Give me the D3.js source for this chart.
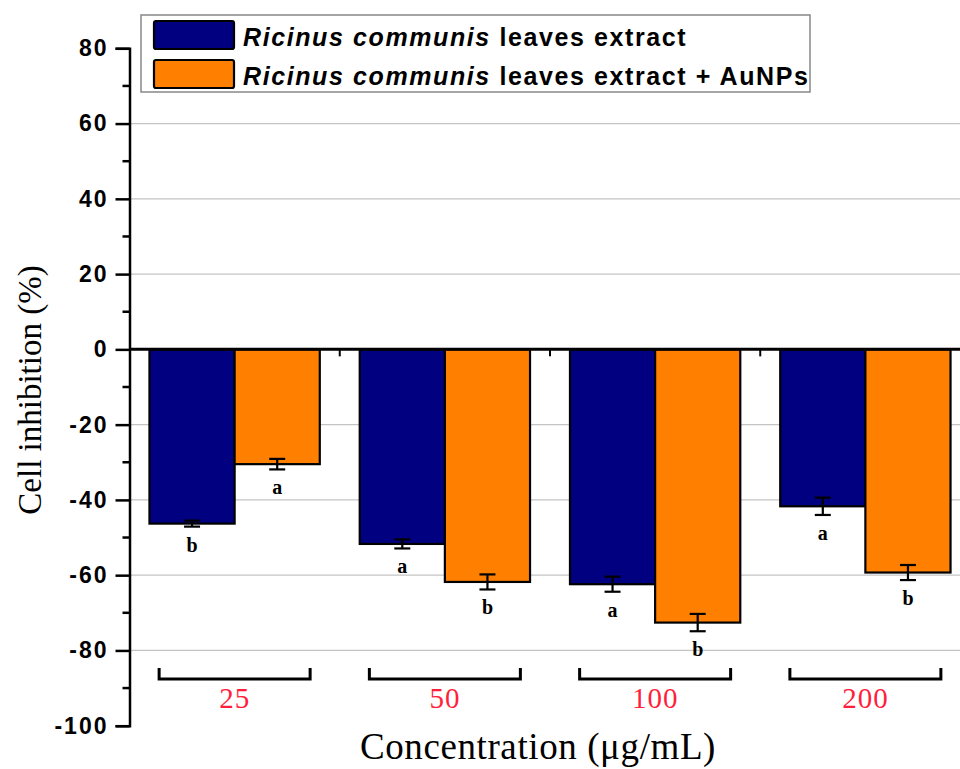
<!DOCTYPE html>
<html>
<head>
<meta charset="utf-8">
<script src="https://cdn.jsdelivr.net/npm/d3@7"></script>
<style>
  body { margin: 0; background: #fff; }
  svg { display: block; }
</style>
</head>
<body>
<div id="container"></div>
<script>
// values
const concentrations = ["25", "50", "100", "200"];
const extractMean = [-46.3, -51.7, -62.4, -41.7];
const extractErr = [0.8, 1.2, 2.0, 2.3];
const extractLetter = ["b", "a", "a", "a"];
const aunpMean = [-30.5, -61.8, -72.6, -59.3];
const aunpErr = [1.4, 2.0, 2.3, 2.0];
const aunpLetter = ["a", "b", "b", "b"];
const yTicks = [-100, -80, -60, -40, -20, 0, 20, 40, 60, 80];
const seriesNames = ["extract", "aunp"];
const seriesColors = ["#000080", "#ff8000"];

const width = 960, height = 769;

const rows = [];
concentrations.forEach((c, i) => {
    rows.push({ conc: c, s: 0, v: extractMean[i], e: extractErr[i], letter: extractLetter[i] });
    rows.push({ conc: c, s: 1, v: aunpMean[i], e: aunpErr[i], letter: aunpLetter[i] });
});

const y = d3.scaleLinear().domain([-100, 80]).range([725.7, 48.3]);
const x = d3.scaleBand().domain(concentrations).range([129.5, 970.5])
    .paddingInner(0.19).paddingOuter(0.095);
const x1 = d3.scaleBand().domain([0, 1]).range([0, x.bandwidth()]);

const svg = d3.create("svg")
    .attr("width", width)
    .attr("height", height);

const axisX = x.range()[0];

// grid
svg.append("g")
    .selectAll("line")
    .data(yTicks.filter(t => t !== 0 && t !== 80 && t !== -100))
    .join("line")
    .attr("x1", axisX).attr("x2", width + 10)
    .attr("y1", d => y(d)).attr("y2", d => y(d))
    .attr("stroke", "#c4c4c4")
    .attr("stroke-width", 1.2);

// bars
svg.append("g")
    .selectAll("rect")
    .data(rows)
    .join("rect")
    .attr("x", d => x(d.conc) + x1(d.s))
    .attr("width", x1.bandwidth())
    .attr("y", y(0))
    .attr("height", d => y(d.v) - y(0))
    .attr("fill", d => seriesColors[d.s])
    .attr("stroke", "#000")
    .attr("stroke-width", 2.2);

// error bars
const eb = svg.append("g").attr("stroke", "#000").attr("stroke-width", 2.2);
rows.forEach(d => {
    const cx = x(d.conc) + x1(d.s) + x1.bandwidth() / 2;
    eb.append("line").attr("x1", cx).attr("x2", cx).attr("y1", y(d.v + d.e)).attr("y2", y(d.v - d.e));
    eb.append("line").attr("x1", cx - 8).attr("x2", cx + 8).attr("y1", y(d.v + d.e)).attr("y2", y(d.v + d.e));
    eb.append("line").attr("x1", cx - 8).attr("x2", cx + 8).attr("y1", y(d.v - d.e)).attr("y2", y(d.v - d.e));
});

// significance letters
svg.append("g")
    .selectAll("text")
    .data(rows)
    .join("text")
    .attr("x", d => x(d.conc) + x1(d.s) + x1.bandwidth() / 2)
    .attr("y", d => y(d.v - d.e) + 25)
    .attr("text-anchor", "middle")
    .style("font", "bold 20px 'Liberation Serif', 'Times New Roman', serif")
    .text(d => d.letter);

// zero line with group ticks
svg.append("line")
    .attr("x1", axisX).attr("x2", width + 10)
    .attr("y1", y(0)).attr("y2", y(0))
    .attr("stroke", "#000").attr("stroke-width", 3);
svg.append("g")
    .selectAll("line")
    .data(concentrations.slice(1))
    .join("line")
    .attr("x1", d => x(d) - x.step() * x.paddingInner() / 2)
    .attr("x2", d => x(d) - x.step() * x.paddingInner() / 2)
    .attr("y1", y(0)).attr("y2", y(0) + 7)
    .attr("stroke", "#000").attr("stroke-width", 2);

// y axis
const yAxis = svg.append("g")
    .attr("transform", `translate(${axisX},0)`)
    .call(d3.axisLeft(y).tickValues(yTicks).tickSize(14).tickPadding(7).tickFormat(d => String(d)));
yAxis.select(".domain").attr("stroke-width", 2.5);
yAxis.selectAll(".tick line").attr("stroke-width", 2.5);
yAxis.selectAll("text")
    .style("font", "bold 23px 'Liberation Sans', Arial, sans-serif")
    .style("letter-spacing", "2px")
    .attr("fill", "#000");
const minor = d3.range(-90, 80, 20);
yAxis.append("g")
    .selectAll("line")
    .data(minor)
    .join("line")
    .attr("x1", -7).attr("x2", 0)
    .attr("y1", d => y(d)).attr("y2", d => y(d))
    .attr("stroke", "#000").attr("stroke-width", 2.5);

// concentration brackets
const brW = 151, brY = y(-87.6);
const br = svg.append("g");
concentrations.forEach(c => {
    const cx = x(c) + x.bandwidth() / 2;
    br.append("path")
        .attr("d", `M${cx - brW / 2},${brY - 11}V${brY}H${cx + brW / 2}V${brY - 11}`)
        .attr("fill", "none").attr("stroke", "#000").attr("stroke-width", 3);
    br.append("text")
        .attr("x", cx).attr("y", brY + 29)
        .attr("text-anchor", "middle")
        .attr("fill", "#ff1f3d")
        .style("font", "29px 'Liberation Serif', 'Times New Roman', serif")
        .style("letter-spacing", "1px")
        .text(c);
});

// axis titles
svg.append("text")
    .attr("x", 538).attr("y", 759)
    .attr("text-anchor", "middle")
    .style("font", "37px 'Liberation Serif', 'Times New Roman', serif")
    .style("letter-spacing", "0.6px")
    .text("Concentration (\u03bcg/mL)");
svg.append("text")
    .attr("transform", "translate(41,390) rotate(-90)")
    .attr("text-anchor", "middle")
    .style("font", "33px 'Liberation Serif', 'Times New Roman', serif")
    .text("Cell inhibition (%)");

// legend
const lg = svg.append("g");
lg.append("rect")
    .attr("x", 141).attr("y", 15).attr("width", 669).attr("height", 77)
    .attr("fill", "#fff").attr("stroke", "#888").attr("stroke-width", 1.5);
const legendLabels = ["leaves extract", "leaves extract + AuNPs"];
seriesNames.forEach((s, i) => {
    const ry = 21 + i * 39;
    lg.append("rect")
        .attr("x", 154).attr("y", ry).attr("width", 80).attr("height", 28)
        .attr("rx", 2)
        .attr("fill", seriesColors[i]).attr("stroke", "#000").attr("stroke-width", 2.2);
    const t = lg.append("text")
        .attr("x", 243).attr("y", ry + 25)
        .style("font", "bold 25px 'Liberation Sans', Arial, sans-serif")
        .style("letter-spacing", "1.6px");
    t.append("tspan").style("font-style", "italic").text("Ricinus communis");
    t.append("tspan").text(" " + legendLabels[i]);
});

document.getElementById("container").append(svg.node());
</script>
</body>
</html>
